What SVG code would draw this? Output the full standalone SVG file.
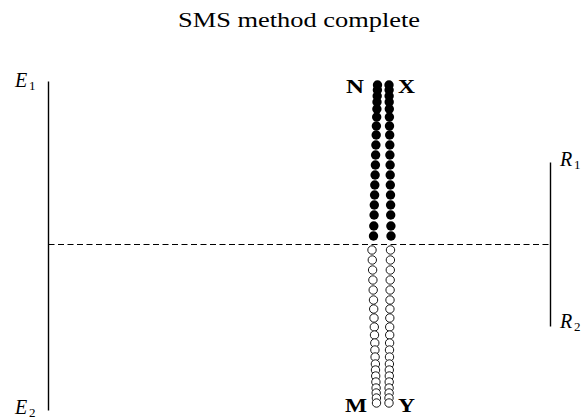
<svg xmlns="http://www.w3.org/2000/svg" width="584" height="419" viewBox="0 0 584 419">
<style>
text{font-family:'Liberation Serif','Times New Roman',serif;fill:#000}
.it{font-style:italic;font-size:20px}
.sub{font-size:13px}
.b{font-weight:bold;font-size:19px}
.f{fill:#000;stroke:none}
.h{fill:#fff;stroke:#000;stroke-width:0.9}
.ln{stroke:#000;stroke-width:1.4;fill:none}
.dash{stroke:#000;stroke-width:1.1;stroke-dasharray:6 3.5;fill:none}
</style>
<rect width="584" height="419" fill="#fff"/>
<text x="299" y="27" font-size="20" text-anchor="middle" textLength="242" lengthAdjust="spacingAndGlyphs">SMS method complete</text>

<g id="connectors">
<line id="E" class="ln" x1="48.5" y1="81.5" x2="48.5" y2="410.5"/>
<line id="R" class="ln" x1="550.5" y1="162.5" x2="550.5" y2="326.5"/>
<line id="axis" class="dash" x1="48.5" y1="244.5" x2="549" y2="244.5"/>
</g>

<g id="E-labels">
<text class="it" x="15" y="86.5">E</text><text class="sub" x="29" y="89.5">1</text>
<text class="it" x="15" y="413.5">E</text><text class="sub" x="29" y="417">2</text>
</g>
<g id="R-labels">
<text class="it" x="560" y="165.5">R</text><text class="sub" x="574" y="169">1</text>
<text class="it" x="560" y="327.5">R</text><text class="sub" x="574" y="331">2</text>
</g>

<g id="N-points">
<circle class="f" cx="377.5" cy="85" r="4.7"/><circle class="f" cx="377.4" cy="90" r="4.7"/><circle class="f" cx="377.2" cy="96" r="4.7"/><circle class="f" cx="377" cy="102" r="4.7"/><circle class="f" cx="376.9" cy="109" r="4.7"/><circle class="f" cx="376.7" cy="117" r="4.7"/><circle class="f" cx="376.4" cy="126" r="4.7"/><circle class="f" cx="376.2" cy="135" r="4.7"/><circle class="f" cx="375.9" cy="145" r="4.7"/><circle class="f" cx="375.6" cy="155" r="4.7"/><circle class="f" cx="375.4" cy="165" r="4.7"/><circle class="f" cx="375.1" cy="175" r="4.7"/><circle class="f" cx="374.8" cy="185" r="4.7"/><circle class="f" cx="374.6" cy="195" r="4.7"/><circle class="f" cx="374.3" cy="205" r="4.7"/><circle class="f" cx="374.1" cy="215" r="4.7"/><circle class="f" cx="373.8" cy="226" r="4.7"/><circle class="f" cx="373.5" cy="236" r="4.7"/>
</g>
<g id="X-points">
<circle class="f" cx="389" cy="85" r="4.7"/><circle class="f" cx="389.1" cy="90" r="4.7"/><circle class="f" cx="389.1" cy="96" r="4.7"/><circle class="f" cx="389.2" cy="102" r="4.7"/><circle class="f" cx="389.3" cy="109" r="4.7"/><circle class="f" cx="389.4" cy="117" r="4.7"/><circle class="f" cx="389.5" cy="126" r="4.7"/><circle class="f" cx="389.7" cy="135" r="4.7"/><circle class="f" cx="389.8" cy="145" r="4.7"/><circle class="f" cx="389.9" cy="155" r="4.7"/><circle class="f" cx="390.1" cy="165" r="4.7"/><circle class="f" cx="390.2" cy="175" r="4.7"/><circle class="f" cx="390.3" cy="185" r="4.7"/><circle class="f" cx="390.5" cy="195" r="4.7"/><circle class="f" cx="390.6" cy="205" r="4.7"/><circle class="f" cx="390.7" cy="215" r="4.7"/><circle class="f" cx="390.9" cy="226" r="4.7"/><circle class="f" cx="391" cy="236" r="4.7"/>
</g>
<g id="M-points">
<circle class="h" cx="372" cy="250" r="4.2"/><circle class="h" cx="372.3" cy="260" r="4.2"/><circle class="h" cx="372.6" cy="270" r="4.2"/><circle class="h" cx="372.9" cy="280" r="4.2"/><circle class="h" cx="373.2" cy="290" r="4.2"/><circle class="h" cx="373.5" cy="300" r="4.2"/><circle class="h" cx="373.7" cy="309" r="4.2"/><circle class="h" cx="374" cy="318" r="4.2"/><circle class="h" cx="374.3" cy="327" r="4.2"/><circle class="h" cx="374.5" cy="335" r="4.2"/><circle class="h" cx="374.8" cy="343" r="4.2"/><circle class="h" cx="374.9" cy="350" r="4.2"/><circle class="h" cx="375.1" cy="357" r="4.2"/><circle class="h" cx="375.4" cy="364" r="4.2"/><circle class="h" cx="375.5" cy="370" r="4.2"/><circle class="h" cx="375.7" cy="376" r="4.2"/><circle class="h" cx="375.9" cy="382" r="4.2"/><circle class="h" cx="376.1" cy="388" r="4.2"/><circle class="h" cx="376.2" cy="393" r="4.2"/><circle class="h" cx="376.4" cy="398" r="4.2"/><circle class="h" cx="376.5" cy="403" r="4.2"/>
</g>
<g id="Y-points">
<circle class="h" cx="390.5" cy="250" r="4.2"/><circle class="h" cx="390.4" cy="260" r="4.2"/><circle class="h" cx="390.3" cy="270" r="4.2"/><circle class="h" cx="390.2" cy="280" r="4.2"/><circle class="h" cx="390.1" cy="290" r="4.2"/><circle class="h" cx="390" cy="300" r="4.2"/><circle class="h" cx="389.9" cy="309" r="4.2"/><circle class="h" cx="389.8" cy="318" r="4.2"/><circle class="h" cx="389.7" cy="327" r="4.2"/><circle class="h" cx="389.7" cy="335" r="4.2"/><circle class="h" cx="389.6" cy="343" r="4.2"/><circle class="h" cx="389.5" cy="350" r="4.2"/><circle class="h" cx="389.5" cy="357" r="4.2"/><circle class="h" cx="389.4" cy="364" r="4.2"/><circle class="h" cx="389.3" cy="370" r="4.2"/><circle class="h" cx="389.3" cy="376" r="4.2"/><circle class="h" cx="389.2" cy="382" r="4.2"/><circle class="h" cx="389.1" cy="388" r="4.2"/><circle class="h" cx="389.1" cy="393" r="4.2"/><circle class="h" cx="389" cy="398" r="4.2"/><circle class="h" cx="389" cy="403" r="4.2"/>
</g>

<g id="point-labels">
<text class="b" x="346" y="93" textLength="18" lengthAdjust="spacingAndGlyphs">N</text>
<text class="b" x="398" y="93" textLength="17" lengthAdjust="spacingAndGlyphs">X</text>
<text class="b" x="345" y="412" textLength="22" lengthAdjust="spacingAndGlyphs">M</text>
<text class="b" x="398" y="412" textLength="17" lengthAdjust="spacingAndGlyphs">Y</text>
</g>
</svg>
